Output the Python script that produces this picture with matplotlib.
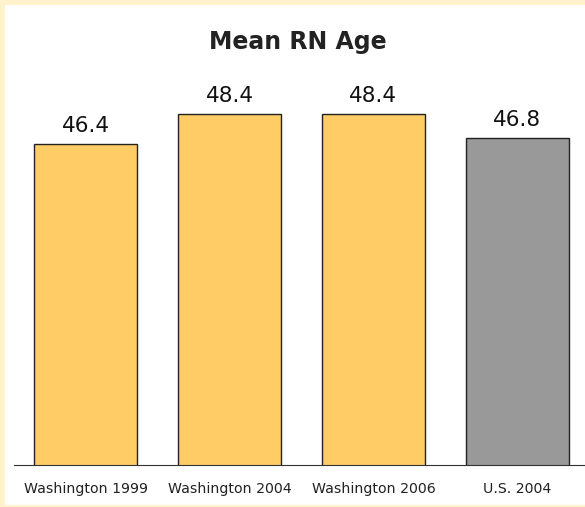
import matplotlib.pyplot as plt
import matplotlib.patches as mpatches

categories = ["Washington 1999", "Washington 2004", "Washington 2006", "U.S. 2004"]
values = [46.4, 48.4, 48.4, 46.8]
colors = ["#FFCC66", "#FFCC66", "#FFCC66", "#999999"]

W, H = 585, 507
fig = plt.figure(figsize=(W / 100, H / 100), dpi=100)
fig.patch.set_facecolor("#FFF2CC")
# white panel inside the beige frame
fig.patches.append(mpatches.Rectangle((5 / W, 2 / H), 1 - 5 / W, 1 - 7 / H,
                                      transform=fig.transFigure, facecolor="white",
                                      edgecolor="none", zorder=-5))

ax = fig.add_axes([14 / W, 42 / H, 575 / W, 385 / H])
ax.set_facecolor("none")
x = range(len(categories))
bars = ax.bar(x, values, width=0.717, color=colors, edgecolor="#222222", linewidth=1)
ax.set_xlim(-0.5, 3.5)
ax.set_ylim(25, 25 + 385 / 15)

for b, v in zip(bars, values):
    ax.text(b.get_x() + b.get_width() / 2, v + 0.55, f"{v:.1f}",
            ha="center", va="bottom", fontsize=15.5, color="#111111")

ax.set_xticks(list(x))
ax.set_xticklabels(categories, fontsize=10.2, color="#222222")
ax.tick_params(axis="x", length=0, pad=12)
ax.set_yticks([])
for s in ["top", "right", "left"]:
    ax.spines[s].set_visible(False)
ax.spines["bottom"].set_color("#333333")

fig.text(298 / W, 1 - 42 / H, "Mean RN Age", ha="center", va="center",
         fontsize=17, fontweight="bold", color="#222222")

fig.savefig("out.png", dpi=100, facecolor=fig.get_facecolor())
